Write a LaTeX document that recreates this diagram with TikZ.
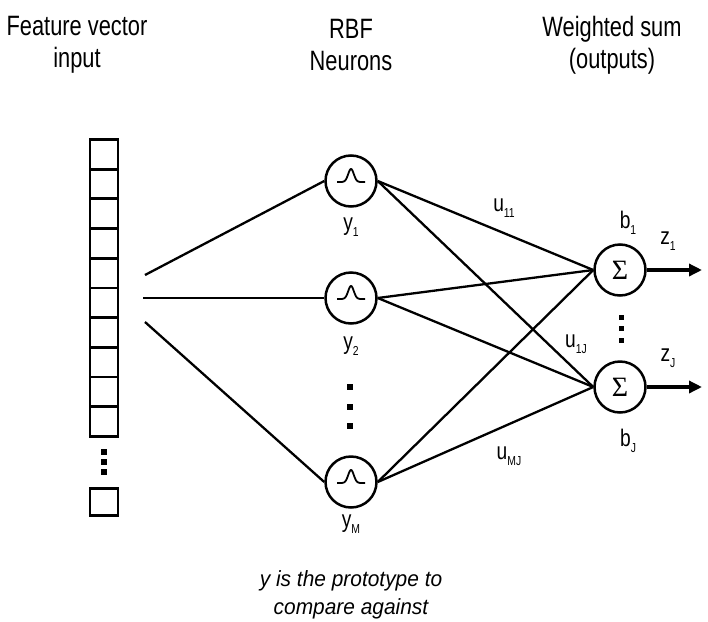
\documentclass[tikz,border=0pt]{standalone}
\usepackage{fontspec}
\setmainfont{Liberation Sans}
\newfontfamily\serifsig{Liberation Serif}
\usetikzlibrary{arrows.meta}
\newcommand{\sbs}[1]{\raisebox{-0.45ex}{\fontsize{13}{13}\selectfont #1}}
\begin{document}
\begin{tikzpicture}[x=1pt,y=-1pt,
  hdr/.style={font=\fontsize{28}{32}\selectfont, align=center, inner sep=0pt, xscale=0.78},
  lbl/.style={font=\fontsize{24}{24}\selectfont, inner sep=0pt, xscale=0.8},
  cell/.style={draw, line width=2.8pt, minimum width=28pt, minimum height=29.7pt, inner sep=0pt, anchor=north},
  neuron/.style={draw, circle, line width=2.5pt, minimum size=51pt, inner sep=0pt},
  conn/.style={line width=2.3pt},
  outarr/.style={line width=3.6pt, -{Triangle[length=13pt,width=12pt]}},
  dotsq/.style={fill, minimum size=5.5pt, inner sep=0pt}
]
\useasboundingbox (0,0) rectangle (708,621);

% headers
\node[hdr] (h1) at (77,45) {Feature vector\\input};
\node[hdr] (h2) at (351,45) {RBF\\Neurons};
\node[hdr] (h3) at (612,45) {Weighted sum\\(outputs)};

% input vector cells
\foreach \i in {0,...,9} {
  \node[cell] (c\i) at (104,{138+29.7*\i}) {};
}
\node[dotsq] (vd1) at (104,452) {};
\node[dotsq] (vd2) at (104,462) {};
\node[dotsq] (vd3) at (104,472) {};
\node[cell, minimum height=27pt] (clast) at (104,487) {};

% input line starts
\coordinate (i1) at (145,275);
\coordinate (i2) at (143,298);
\coordinate (i3) at (145,322);

% RBF neurons
\node[neuron] (r1) at (351,181) {};
\node[neuron] (r2) at (351,298) {};
\node[neuron] (rM) at (351,482) {};
\foreach \n in {r1,r2,rM} {
  \draw[line width=1.8pt, shift={(\n.center)}] plot[domain=-14:14, samples=60, smooth] (\x, {1-13*exp(-(\x/4)^2)});
}
\node[lbl] (ly1) at (351,227) {y\sbs{1}};
\node[lbl] (ly2) at (351,346) {y\sbs{2}};
\node[lbl] (lyM) at (351,524) {y\sbs{M}};
\node[dotsq] (rd1) at (350,387) {};
\node[dotsq] (rd2) at (350,407) {};
\node[dotsq] (rd3) at (350,426) {};

% sum neurons
\node[neuron, font=\serifsig\fontsize{28}{28}\selectfont] (s1) at (620,270) {Σ};
\node[neuron, font=\serifsig\fontsize{28}{28}\selectfont] (sJ) at (620,387) {Σ};
\node[dotsq, minimum size=5pt] (sd1) at (621,317) {};
\node[dotsq, minimum size=5pt] (sd2) at (621,328) {};
\node[dotsq, minimum size=5pt] (sd3) at (621,340) {};

% outputs
\coordinate (o1) at (702,270);
\coordinate (oJ) at (702,387);
\draw[outarr] (s1.east) -- (o1);
\draw[outarr] (sJ.east) -- (oJ);

% labels
\node[lbl] (lb1) at (628,223) {b\sbs{1}};
\node[lbl] (lz1) at (668,241) {z\sbs{1}};
\node[lbl] (lzJ) at (668,358) {z\sbs{J}};
\node[lbl] (lbJ) at (628,441) {b\sbs{J}};
\node[lbl] (lu11) at (504,208) {u\sbs{11}};
\node[lbl] (lu1J) at (576,344) {u\sbs{1J}};
\node[lbl] (luMJ) at (509,456) {u\sbs{MJ}};

% connectors input -> RBF
\draw[conn] (i1) -- (r1.west);
\draw[conn] (i2) -- (r2.west);
\draw[conn] (i3) -- (rM.west);

% RBF -> sums
\foreach \r in {r1,r2,rM} {
  \draw[conn] (\r.east) -- (s1.west);
  \draw[conn] (\r.east) -- (sJ.west);
}

% bottom note
\node[font=\itshape\fontsize{22}{28}\selectfont, align=center, inner sep=0pt, xscale=0.95] (note) at (351,595) {y is the prototype to\\compare against};
\end{tikzpicture}
\end{document}
